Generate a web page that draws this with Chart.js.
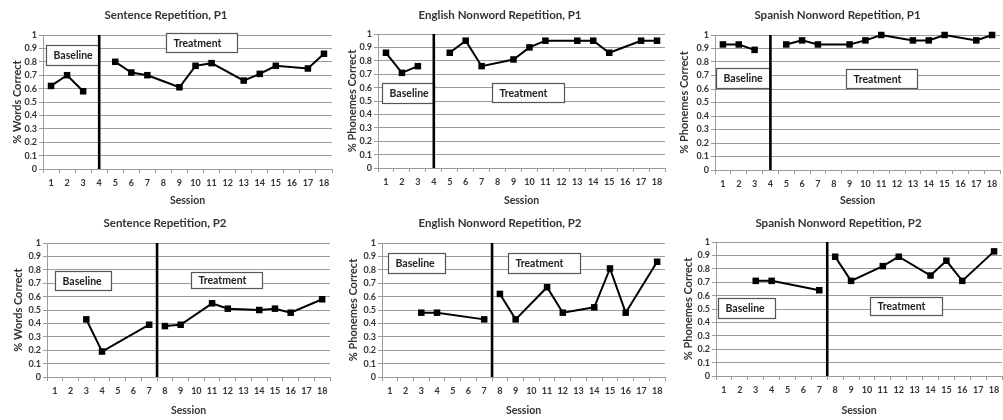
<!DOCTYPE html>
<html>
<head>
<meta charset="utf-8">
<script src="https://cdn.jsdelivr.net/npm/chart.js@4/dist/chart.umd.min.js"></script>
<style>
  html, body { margin: 0; padding: 0; background: #fff; width: 1003px; height: 420px; overflow: hidden; }
  canvas { position: absolute; }
</style>
</head>
<body>
<canvas id="c1"></canvas>
<canvas id="c2"></canvas>
<canvas id="c3"></canvas>
<canvas id="c4"></canvas>
<canvas id="c5"></canvas>
<canvas id="c6"></canvas>
<script>
// ---- data ----
const sessionLabels = ['1','2','3','4','5','6','7','8','9','10','11','12','13','14','15','16','17','18'];
const yTickLabels = ['0','0.1','0.2','0.3','0.4','0.5','0.6','0.7','0.8','0.9','1'];

// Participant 1: baseline sessions 1-3, treatment from session 5
const p1BaseSessions  = [1, 2, 3];
const p1TreatSessions = [5, 6, 7, 9, 10, 11, 13, 14, 15, 17, 18];
const p1PhaseChange = 4;

const sentP1Base  = [0.62, 0.70, 0.58];
const sentP1Treat = [0.80, 0.72, 0.70, 0.61, 0.77, 0.79, 0.66, 0.71, 0.77, 0.75, 0.86];
const engP1Base   = [0.86, 0.71, 0.76];
const engP1Treat  = [0.86, 0.95, 0.76, 0.81, 0.90, 0.95, 0.95, 0.95, 0.86, 0.95, 0.95];
const spaP1Base   = [0.93, 0.93, 0.89];
const spaP1Treat  = [0.93, 0.96, 0.93, 0.93, 0.96, 1.00, 0.96, 0.96, 1.00, 0.96, 1.00];

// Participant 2: baseline sessions 3, 4, 7, treatment from session 8
const p2BaseSessions  = [3, 4, 7];
const p2TreatSessions = [8, 9, 11, 12, 14, 15, 16, 18];
const p2PhaseChange = 7.5;

const sentP2Base  = [0.43, 0.19, 0.39];
const sentP2Treat = [0.38, 0.39, 0.55, 0.51, 0.50, 0.51, 0.48, 0.58];
const engP2Base   = [0.48, 0.48, 0.43];
const engP2Treat  = [0.62, 0.43, 0.67, 0.48, 0.52, 0.81, 0.48, 0.86];
const spaP2Base   = [0.71, 0.71, 0.64];
const spaP2Treat  = [0.89, 0.71, 0.82, 0.89, 0.75, 0.86, 0.71, 0.93];

// ---- styling / layout ----
const FONT = 'Lato, "Open Sans", "DejaVu Sans", sans-serif';
const GRID = '#9c9c9c';
const TEXT = '#333';

// Draws the white "Baseline"/"Treatment" label boxes, positioned in axis units
const phaseLabelBoxes = {
  id: 'phaseLabelBoxes',
  beforeDatasetsDraw(chart, args, opts) {
    const ctx = chart.ctx;
    const xs = chart.scales.xp, ys = chart.scales.y;
    (opts.boxes || []).forEach(b => {
      const x0 = Math.round(xs.getPixelForValue(b.x0)) + 0.5;
      const x1 = Math.round(xs.getPixelForValue(b.x1)) + 0.5;
      const y0 = Math.round(ys.getPixelForValue(b.top)) + 0.5;
      const y1 = Math.round(ys.getPixelForValue(b.bottom)) + 0.5;
      ctx.save();
      ctx.fillStyle = '#fff';
      ctx.fillRect(x0, y0, x1 - x0, y1 - y0);
      ctx.strokeStyle = '#555';
      ctx.lineWidth = 1.2;
      ctx.strokeRect(x0, y0, x1 - x0, y1 - y0);
      ctx.fillStyle = '#222';
      ctx.font = 'bold 10.5px ' + FONT;
      ctx.textBaseline = 'middle';
      ctx.textAlign = 'left';
      ctx.fillText(b.text, x0 + 7, (y0 + y1) / 2 + 0.5);
      ctx.restore();
    });
  }
};

function points(sessions, values) {
  return sessions.map((s, i) => ({ x: String(s), y: values[i] }));
}

function makePanel(p) {
  const canvas = document.getElementById(p.id);
  canvas.width = p.w; canvas.height = 210;
  canvas.style.left = p.left + 'px'; canvas.style.top = p.top + 'px';
  canvas.style.width = p.w + 'px'; canvas.style.height = '210px';

  const titleLH = 11.5 * 1.2;
  const titleTop = p.titleY - titleLH / 2;
  const yTitleLH = 11 * 1.2;

  const seriesStyle = {
    borderColor: '#000', backgroundColor: '#000', borderWidth: 2,
    pointStyle: 'rect', pointRadius: 4.6, pointBorderWidth: 0,
    pointBackgroundColor: '#000', tension: 0, clip: false, xAxisID: 'x'
  };

  new Chart(canvas, {
    type: 'line',
    data: {
      labels: sessionLabels,
      datasets: [
        Object.assign({ label: 'Baseline', data: points(p.baseSessions, p.base) }, seriesStyle),
        Object.assign({ label: 'Treatment', data: points(p.treatSessions, p.treat) }, seriesStyle),
        {
          label: 'Phase change', xAxisID: 'xp',
          data: [{ x: p.phase, y: 0 }, { x: p.phase, y: 1 }],
          borderColor: '#000', borderWidth: 2.6, pointRadius: 0, clip: false
        }
      ]
    },
    options: {
      responsive: false,
      animation: false,
      layout: { padding: { left: 0, right: p.w - p.plot.r, top: 0, bottom: 0 } },
      plugins: {
        legend: { display: false },
        tooltip: { enabled: false },
        title: {
          display: true, text: p.title, color: TEXT,
          font: { family: FONT, size: 11.5, weight: 'bold' },
          padding: { top: titleTop, bottom: p.plot.t - titleTop - titleLH }
        },
        phaseLabelBoxes: { boxes: p.boxes }
      },
      scales: {
        x: {
          type: 'category', offset: true,
          grid: { display: true, offset: true, drawOnChartArea: false, drawTicks: true, tickLength: 4, color: GRID },
          border: { display: true, color: GRID, width: 1 },
          ticks: { color: TEXT, font: { family: FONT, size: 9, weight: 'bold' }, padding: 5, autoSkip: false, maxRotation: 0 },
          title: { display: true, text: 'Session', color: TEXT, font: { family: FONT, size: 10.5, weight: 'bold' }, padding: { top: 0, bottom: 3 } },
          afterFit: s => { s.height = 210 - p.plot.b; }
        },
        xp: {
          type: 'linear', display: false, min: 0.5, max: 18.5
        },
        y: {
          min: 0, max: 1,
          grid: { color: GRID, lineWidth: 1, tickLength: 4, drawTicks: true },
          border: { display: true, color: GRID, width: 1 },
          ticks: {
            stepSize: 0.1, autoSkip: false, color: TEXT, padding: 2,
            font: { family: FONT, size: 9, weight: 'bold' },
            callback: (v, i) => yTickLabels[i]
          },
          title: { display: true, text: p.yTitle, color: TEXT, font: { family: FONT, size: 11, weight: 'bold' }, padding: { top: p.yTitleX - yTitleLH / 2, bottom: 0 } },
          afterFit: s => { s.width = p.plot.l; }
        }
      }
    },
    plugins: [phaseLabelBoxes]
  });
}

const panels = [
  { id: 'c1', left: 0, top: 0, w: 356, titleY: 15, yTitleX: 17.5,
    plot: { l: 43, t: 35, r: 332, b: 169 },
    title: 'Sentence Repetition, P1', yTitle: '% Words Correct',
    baseSessions: p1BaseSessions, base: sentP1Base, treatSessions: p1TreatSessions, treat: sentP1Treat, phase: p1PhaseChange,
    boxes: [ { text: 'Baseline', x0: 0.69, x1: 4.0, top: 0.925, bottom: 0.776 },
             { text: 'Treatment', x0: 8.16, x1: 12.58, top: 1.015, bottom: 0.873 } ] },
  { id: 'c2', left: 335, top: 0, w: 346, titleY: 15, yTitleX: 17.5,
    plot: { l: 43, t: 34, r: 330, b: 168 },
    title: 'English Nonword Repetition, P1', yTitle: '% Phonemes Correct',
    baseSessions: p1BaseSessions, base: engP1Base, treatSessions: p1TreatSessions, treat: engP1Treat, phase: p1PhaseChange,
    boxes: [ { text: 'Baseline', x0: 0.75, x1: 4.0, top: 0.634, bottom: 0.485 },
             { text: 'Treatment', x0: 7.65, x1: 12.17, top: 0.634, bottom: 0.493 } ] },
  { id: 'c3', left: 675, top: 0, w: 347, titleY: 15, yTitleX: 9.5,
    plot: { l: 40, t: 35, r: 325, b: 170 },
    title: 'Spanish Nonword Repetition, P1', yTitle: '% Phonemes Correct',
    baseSessions: p1BaseSessions, base: spaP1Base, treatSessions: p1TreatSessions, treat: spaP1Treat, phase: p1PhaseChange,
    boxes: [ { text: 'Baseline', x0: 0.56, x1: 4.0, top: 0.756, bottom: 0.607 },
             { text: 'Treatment', x0: 8.78, x1: 13.26, top: 0.748, bottom: 0.607 } ] },
  { id: 'c4', left: 0, top: 210, w: 353, titleY: 13.5, yTitleX: 18,
    plot: { l: 47, t: 33, r: 330, b: 167 },
    title: 'Sentence Repetition, P2', yTitle: '% Words Correct',
    baseSessions: p2BaseSessions, base: sentP2Base, treatSessions: p2TreatSessions, treat: sentP2Treat, phase: p2PhaseChange,
    boxes: [ { text: 'Baseline', x0: 1.01, x1: 4.57, top: 0.791, bottom: 0.649 },
             { text: 'Treatment', x0: 9.66, x1: 14.18, top: 0.784, bottom: 0.664 } ] },
  { id: 'c5', left: 335, top: 210, w: 355, titleY: 13.5, yTitleX: 18,
    plot: { l: 47, t: 33, r: 330, b: 167 },
    title: 'English Nonword Repetition, P2', yTitle: '% Phonemes Correct',
    baseSessions: p2BaseSessions, base: engP2Base, treatSessions: p2TreatSessions, treat: engP2Treat, phase: p2PhaseChange,
    boxes: [ { text: 'Baseline', x0: 0.88, x1: 4.51, top: 0.925, bottom: 0.776 },
             { text: 'Treatment', x0: 8.52, x1: 13.1, top: 0.925, bottom: 0.776 } ] },
  { id: 'c6', left: 675, top: 210, w: 348, titleY: 13.5, yTitleX: 13.8,
    plot: { l: 41, t: 32, r: 327, b: 166 },
    title: 'Spanish Nonword Repetition, P2', yTitle: '% Phonemes Correct',
    baseSessions: p2BaseSessions, base: spaP2Base, treatSessions: p2TreatSessions, treat: spaP2Treat, phase: p2PhaseChange,
    boxes: [ { text: 'Baseline', x0: 0.63, x1: 4.23, top: 0.582, bottom: 0.433 },
             { text: 'Treatment', x0: 10.17, x1: 14.71, top: 0.59, bottom: 0.455 } ] }
];

panels.forEach(makePanel);
</script>
</body>
</html>
